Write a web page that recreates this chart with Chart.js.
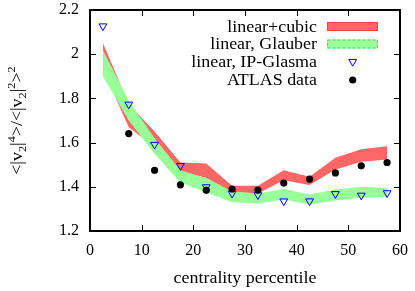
<!DOCTYPE html>
<html>
<head>
<meta charset="utf-8">
<script src="https://cdn.jsdelivr.net/npm/chart.js@4/dist/chart.umd.min.js"></script>
<style>
  html, body { margin: 0; padding: 0; background: #fff; }
  #wrap { width: 415px; height: 291px; position: relative; }
  #ov { position: absolute; left: 0; top: 0; pointer-events: none; }
</style>
</head>
<body>
<div id="wrap"><canvas id="c"></canvas><canvas id="ov" width="415" height="291"></canvas></div>
<script>
// centrality bins (bin centres, %)
const centrality = [2.5, 7.5, 12.5, 17.5, 22.5, 27.5, 32.5, 37.5, 42.5, 47.5, 52.5, 57.5];

// linear+cubic band (red)
const cubicHi = [2.05, 1.775, 1.65, 1.51, 1.505, 1.405, 1.405, 1.475, 1.445, 1.532, 1.57, 1.584];
const cubicLo = [1.93, 1.67, 1.58, 1.47, 1.44, 1.37, 1.37, 1.43, 1.408, 1.478, 1.513, 1.524];

// linear, Glauber band (green)
const glauberHi = [2.017, 1.79, 1.62, 1.475, 1.44, 1.38, 1.37, 1.39, 1.365, 1.388, 1.40, 1.395];
const glauberLo = [1.90, 1.70, 1.55, 1.42, 1.375, 1.33, 1.325, 1.342, 1.32, 1.338, 1.35, 1.355];

// linear, IP-Glasma (triangles)
const ipGlasma = [2.127, 1.773, 1.591, 1.495, 1.399, 1.37, 1.363, 1.335, 1.335, 1.368, 1.361, 1.372];

// ATLAS data
const atlasX = [7.5, 12.5, 17.5, 22.5, 27.5, 32.5, 37.5, 42.5, 47.5, 52.5, 57.5];
const atlas = [1.641, 1.475, 1.409, 1.384, 1.39, 1.385, 1.417, 1.435, 1.463, 1.495, 1.51];

const xTicks = [0, 10, 20, 30, 40, 50, 60];
const yTicks = [1.2, 1.4, 1.6, 1.8, 2, 2.2];

const legendLabels = ['linear+cubic', 'linear, Glauber', 'linear, IP-Glasma', 'ATLAS data'];

const FONT = 'Liberation Serif';
const RED = 'rgb(255,102,102)';
const GREEN = 'rgb(153,255,153)';
const SX = 1.12; // the original text runs wider

const pts = ys => ys.map((v, i) => ({ x: centrality[i], y: v }));

function drawTriangle(ctx, cx, cy, r) {
  ctx.beginPath();
  ctx.moveTo(cx - r * 0.866, cy - r * 0.5);
  ctx.lineTo(cx + r * 0.866, cy - r * 0.5);
  ctx.lineTo(cx, cy + r);
  ctx.closePath();
  ctx.stroke();
}

// frame and inward ticks go on an overlay canvas, placed from the chart's own scales
const frame = {
  id: 'frame',
  afterDraw(chart) {
    const ov = document.getElementById('ov');
    const ctx = ov.getContext('2d');
    const a = chart.chartArea;
    const sx = chart.scales.x;
    const sy = chart.scales.y;
    ctx.clearRect(0, 0, ov.width, ov.height);
    ctx.fillStyle = '#000';
    const w0 = a.right - a.left, h0 = a.bottom - a.top;
    ctx.fillRect(a.left - 1, a.top - 1, w0 + 2, 2);
    ctx.fillRect(a.left - 1, a.bottom - 1, w0 + 2, 2);
    ctx.fillRect(a.left - 1, a.top - 1, 2, h0 + 2);
    ctx.fillRect(a.right - 1, a.top - 1, 2, h0 + 2);
    xTicks.forEach(v => {
      const px = Math.round(sx.getPixelForValue(v));
      ctx.fillRect(px, a.bottom - 6, 1, 6);
      ctx.fillRect(px, a.top, 1, 6);
    });
    yTicks.forEach(v => {
      const py = Math.round(sy.getPixelForValue(v));
      ctx.fillRect(a.left, py, 6, 1);
      ctx.fillRect(a.right - 6, py, 6, 1);
    });
  }
};

// legend and axis titles
const decor = {
  id: 'decor',
  afterDraw(chart) {
    const ctx = chart.ctx;
    const a = chart.chartArea;
    ctx.save();
    ctx.fillStyle = '#000';
    ctx.font = '16px "' + FONT + '"';
    ctx.textBaseline = 'alphabetic';
    const base = [31.7, 49.2, 66.8, 85];
    legendLabels.forEach((t, i) => {
      ctx.save();
      ctx.textAlign = 'right';
      ctx.translate(317, base[i]);
      ctx.scale(SX, 1);
      ctx.fillText(t, 0, 0);
      ctx.restore();
    });
    ctx.fillStyle = RED;
    ctx.fillRect(327, 22, 51, 9);
    ctx.strokeStyle = 'rgb(240,70,70)';
    ctx.lineWidth = 1;
    ctx.strokeRect(327.5, 22.5, 50, 8);
    ctx.fillStyle = GREEN;
    ctx.fillRect(327, 39.5, 51, 9);
    ctx.strokeStyle = 'rgb(90,200,90)';
    ctx.setLineDash([3, 2]);
    ctx.strokeRect(327.5, 40, 50, 8);
    ctx.setLineDash([]);
    ctx.strokeStyle = '#0000ff';
    drawTriangle(ctx, 352.7, 61.7, 4.5);
    ctx.fillStyle = '#000';
    ctx.beginPath();
    ctx.arc(352.7, 80, 3.6, 0, Math.PI * 2);
    ctx.fill();

    // x title
    ctx.save();
    ctx.textAlign = 'center';
    ctx.translate((a.left + a.right) / 2, 283);
    ctx.scale(SX, 1);
    ctx.fillText('centrality percentile', 0, 0);
    ctx.restore();

    // y title  <|v2|^4>/<|v2|^2>^2
    const parts = [
      ['<|v', 0], ['2', 1], ['|', 0], ['4', 2], ['>/<|v', 0], ['2', 1], ['|', 0], ['2', 2], ['>', 0], ['2', 2]
    ];
    const fontOf = k => (k === 0 ? '16px "' : '11px "') + FONT + '"';
    ctx.save();
    ctx.textAlign = 'left';
    ctx.translate(22, (a.top + a.bottom) / 2);
    ctx.rotate(-Math.PI / 2);
    ctx.scale(SX, 1);
    let w = 0;
    parts.forEach(([t, k]) => { ctx.font = fontOf(k); w += ctx.measureText(t).width; });
    let cx = -w / 2;
    parts.forEach(([t, k]) => {
      ctx.font = fontOf(k);
      const dy = k === 1 ? 4 : (k === 2 ? -7 : 0);
      ctx.fillText(t, cx, dy);
      cx += ctx.measureText(t).width;
    });
    ctx.restore();
    ctx.restore();
  }
};

new Chart(document.getElementById('c'), {
  type: 'scatter',
  data: {
    datasets: [
      {
        label: 'ATLAS data',
        data: atlasX.map((v, i) => ({ x: v, y: atlas[i] })),
        backgroundColor: '#000', borderColor: '#000',
        pointStyle: 'circle', pointRadius: 3.6,
        pointBackgroundColor: '#000', pointBorderColor: '#000', pointBorderWidth: 0
      },
      {
        label: 'linear, IP-Glasma',
        data: pts(ipGlasma),
        backgroundColor: 'transparent', borderColor: '#0000ff',
        pointStyle: 'triangle', pointRotation: 180, pointRadius: 4.5,
        pointBackgroundColor: 'transparent', pointBorderColor: '#0000ff', pointBorderWidth: 1
      },
      {
        label: 'glauber lo', data: pts(glauberLo), showLine: true, fill: false,
        backgroundColor: 'transparent', borderColor: 'transparent', pointRadius: 0, pointHitRadius: 0
      },
      {
        label: 'linear, Glauber', data: pts(glauberHi), showLine: true, fill: '-1',
        backgroundColor: GREEN, borderColor: 'transparent', pointRadius: 0, pointHitRadius: 0
      },
      {
        label: 'cubic lo', data: pts(cubicLo), showLine: true, fill: false,
        backgroundColor: 'transparent', borderColor: 'transparent', pointRadius: 0, pointHitRadius: 0
      },
      {
        label: 'linear+cubic', data: pts(cubicHi), showLine: true, fill: '-1',
        backgroundColor: RED, borderColor: 'transparent', pointRadius: 0, pointHitRadius: 0
      }
    ]
  },
  options: {
    responsive: true,
    maintainAspectRatio: false,
    animation: false,
    layout: { padding: { top: 10, right: 15, left: 0, bottom: 0 } },
    plugins: { legend: { display: false }, tooltip: { enabled: false } },
    scales: {
      x: {
        type: 'linear', min: 0, max: 60,
        grid: { display: false, drawTicks: false },
        border: { display: false },
        ticks: { stepSize: 10, color: '#000', padding: 10, font: { family: FONT, size: 16 } },
        afterFit: s => { s.height = 60; s.paddingLeft = 0; s.paddingRight = 0; }
      },
      y: {
        min: 1.2, max: 2.2,
        grid: { display: false, drawTicks: false },
        border: { display: false },
        ticks: {
          stepSize: 0.2, color: '#000', padding: 11, font: { family: FONT, size: 16 },
          callback: v => String(+v.toFixed(1))
        },
        afterFit: s => { s.width = 90; s.paddingTop = 0; s.paddingBottom = 0; }
      }
    }
  },
  plugins: [decor, frame]
});
</script>
</body>
</html>
